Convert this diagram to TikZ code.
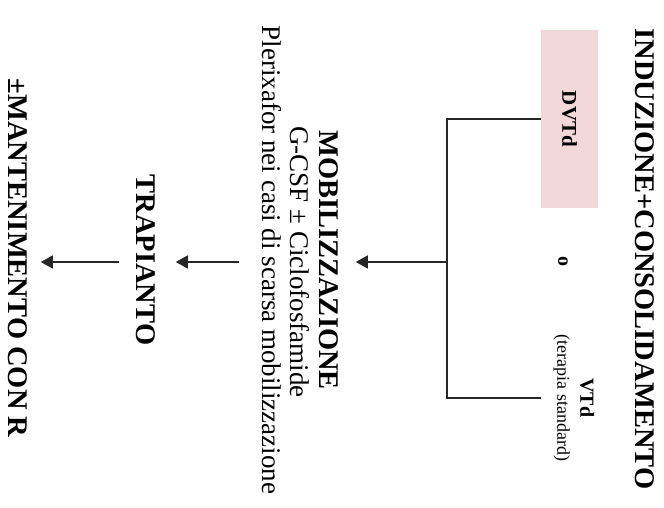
\documentclass[tikz,border=0pt]{standalone}
\usepackage{fontspec}
\setmainfont{Liberation Serif}
\usetikzlibrary{arrows.meta}
\definecolor{boxpink}{RGB}{242,216,216}

\begin{document}
\begin{tikzpicture}[x=1pt, y=1pt, every node/.style={rotate=-90, inner sep=0pt},
    head/.style={font=\fontsize{28.5}{32}\selectfont\bfseries},
    body/.style={font=\fontsize{27}{31}\selectfont},
    small/.style={font=\fontsize{20}{23}\selectfont},
    wire/.style={line width=1.2pt, black!85},
    arr/.style={wire, -{Triangle[length=12pt,width=13pt]}}]
  \useasboundingbox (0,0) rectangle (664,508);
  % induction: two schemes side by side
  \node[head] (ind) at (645,249) {INDUZIONE+CONSOLIDAMENTO};
  \node[small, fill=boxpink, minimum width=178pt, minimum height=57pt] (dvtd) at (569.5,389) {\fontsize{21}{24}\selectfont\textbf{DVTd}};
  \node[small] (or) at (563,246) {\textbf{o}};
  \node[small, align=center] (vtd) at (574,110) {\textbf{VTd}\\\fontsize{18}{21}\selectfont(terapia standard)};
  % bracket joining them, then on to mobilization
  \coordinate (fork) at (447,246);
  \draw[wire] (dvtd.south) -| (fork) |- ([xshift=-12pt]vtd.south);
  \node[head] (mob) at (329,248) {MOBILIZZAZIONE};
  \node[body] (gcsf) at (300,246) {G-CSF ± Ciclofosfamide};
  \node[body] (plx) at (272,248) {Plerixafor nei casi di scarsa mobilizzazione};
  \draw[arr] (fork) -- ([xshift=17pt]mob.north |- fork);
  % transplant and maintenance
  \node[head] (trap) at (146,248) {TRAPIANTO};
  \node[head] (mant) at (18,250) {±MANTENIMENTO CON R};
  \draw[arr] ([xshift=-23pt]plx.south |- fork) -- ([xshift=20pt]trap.north |- fork);
  \draw[arr] ([xshift=-17pt]trap.south |- fork) -- ([xshift=13pt]mant.north |- fork);
\end{tikzpicture}
\end{document}
